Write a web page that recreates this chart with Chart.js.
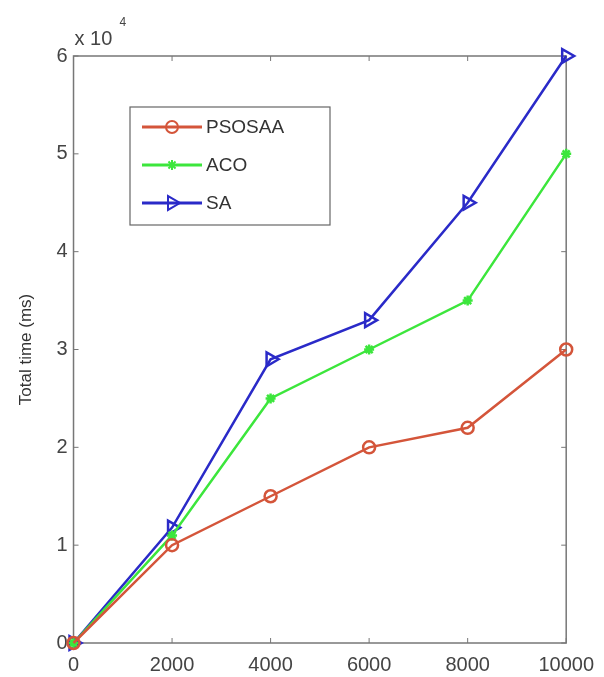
<!DOCTYPE html>
<html>
<head>
<meta charset="utf-8">
<script src="https://cdn.jsdelivr.net/npm/chart.js@4"></script>
<style>
  body { margin: 0; background: #fff; }
  #wrap { width: 604px; height: 677px; }
</style>
</head>
<body>
<div id="wrap"><canvas id="myChart" width="604" height="677"></canvas></div>
<script>
const xValues = [0, 2000, 4000, 6000, 8000, 10000];
const psosaa = [0, 10000, 15000, 20000, 22000, 30000];
const aco = [0, 11000, 25000, 30000, 35000, 50000];
const sa = [0, 11800, 29000, 33000, 45000, 60000];
const yTicks = [0, 10000, 20000, 30000, 40000, 50000, 60000];

const font = "'Liberation Sans', Arial, sans-serif";

function pts(arr) {
  return arr.map((v, i) => ({ x: xValues[i], y: v }));
}

// frame, exponent label and legend box inside the plot
const matlabBits = {
  id: 'matlabBits',
  beforeDatasetsDraw(chart) {
    const { ctx, chartArea: a } = chart;
    ctx.save();
    ctx.strokeStyle = '#777';
    ctx.lineWidth = 1.5;
    ctx.strokeRect(a.left, a.top, a.right - a.left, a.bottom - a.top);

    // small inward ticks
    const xs = chart.scales.x, ys = chart.scales.y;
    ctx.lineWidth = 1;
    xValues.forEach(v => {
      const px = xs.getPixelForValue(v);
      ctx.beginPath();
      ctx.moveTo(px, a.bottom); ctx.lineTo(px, a.bottom - 5);
      ctx.moveTo(px, a.top); ctx.lineTo(px, a.top + 5);
      ctx.stroke();
    });
    yTicks.forEach(v => {
      const py = ys.getPixelForValue(v);
      ctx.beginPath();
      ctx.moveTo(a.left, py); ctx.lineTo(a.left + 5, py);
      ctx.moveTo(a.right, py); ctx.lineTo(a.right - 5, py);
      ctx.stroke();
    });

    // x 10^4
    ctx.fillStyle = '#444';
    ctx.font = '20px ' + font;
    ctx.textBaseline = 'alphabetic';
    ctx.textAlign = 'left';
    ctx.fillText('x 10', a.left + 1, a.top - 11);
    ctx.font = '12px ' + font;
    ctx.fillText('4', a.left + 46, a.top - 30);
    ctx.restore();
  },
  afterDraw(chart) {
    const { ctx } = chart;
    ctx.save();
    const bx = 130, by = 107, bw = 200, bh = 118;
    ctx.fillStyle = '#fff';
    ctx.fillRect(bx, by, bw, bh);
    ctx.strokeStyle = '#666';
    ctx.lineWidth = 1.2;
    ctx.strokeRect(bx, by, bw, bh);
    const rows = [127, 165, 203];
    chart.data.datasets.forEach((ds, i) => {
      const y = rows[i];
      ctx.strokeStyle = ds.borderColor;
      ctx.lineWidth = 3;
      ctx.beginPath();
      ctx.moveTo(bx + 12, y); ctx.lineTo(bx + 72, y);
      ctx.stroke();
      ctx.fillStyle = ds.pointBackgroundColor;
      ctx.strokeStyle = ds.borderColor;
      ctx.lineWidth = 2;
      Chart.helpers.drawPoint(ctx, {
        pointStyle: ds.pointStyle,
        radius: ds.pointRadius,
        rotation: ds.pointRotation || 0,
        borderWidth: 2
      }, bx + 42, y);
      ctx.fillStyle = '#333';
      ctx.font = '19px ' + font;
      ctx.textBaseline = 'middle';
      ctx.fillText(ds.label, bx + 76, y + 1);
    });
    ctx.restore();
  }
};

new Chart(document.getElementById('myChart'), {
  type: 'line',
  data: {
    datasets: [
      {
        label: 'PSOSAA',
        data: pts(psosaa),
        borderColor: '#d4553a',
        pointBackgroundColor: 'rgba(255,255,255,0)',
        pointBorderColor: '#d4553a',
        pointStyle: 'circle',
        pointRadius: 6,
        borderWidth: 2.5,
        clip: false
      },
      {
        label: 'ACO',
        data: pts(aco),
        borderColor: '#3ce63c',
        pointBackgroundColor: '#3ce63c',
        pointBorderColor: '#3ce63c',
        pointStyle: 'star',
        pointRadius: 5,
        borderWidth: 2.5,
        clip: false
      },
      {
        label: 'SA',
        data: pts(sa),
        borderColor: '#2a2ac8',
        pointBackgroundColor: 'rgba(255,255,255,0)',
        pointBorderColor: '#2a2ac8',
        pointStyle: 'triangle',
        pointRotation: 90,
        pointRadius: 8,
        borderWidth: 2.5,
        clip: false
      }
    ]
  },
  options: {
    responsive: false,
    animation: false,
    layout: { padding: { top: 56, right: 36, left: 12, bottom: -10 } },
    plugins: {
      legend: { display: false },
      tooltip: { enabled: false }
    },
    scales: {
      x: {
        type: 'linear',
        min: 0,
        max: 10000,
        afterBuildTicks: (s) => { s.ticks = xValues.map(v => ({ value: v })); },
        grid: { drawOnChartArea: false, drawTicks: false },
        border: { display: false },
        ticks: {
          color: '#444',
          font: { family: font, size: 20 },
          padding: 10,
          callback: (v) => String(v)
        }
      },
      y: {
        min: 0,
        max: 60000,
        afterBuildTicks: (s) => { s.ticks = yTicks.map(v => ({ value: v })); },
        grid: { drawOnChartArea: false, drawTicks: false },
        border: { display: false },
        ticks: {
          color: '#444',
          font: { family: font, size: 20 },
          padding: 6,
          callback: (v) => v / 10000
        },
        title: {
          display: true,
          text: 'Total time (ms)',
          color: '#333',
          font: { family: font, size: 17 },
          padding: { bottom: 14 }
        }
      }
    }
  },
  plugins: [matlabBits]
});
</script>
</body>
</html>
